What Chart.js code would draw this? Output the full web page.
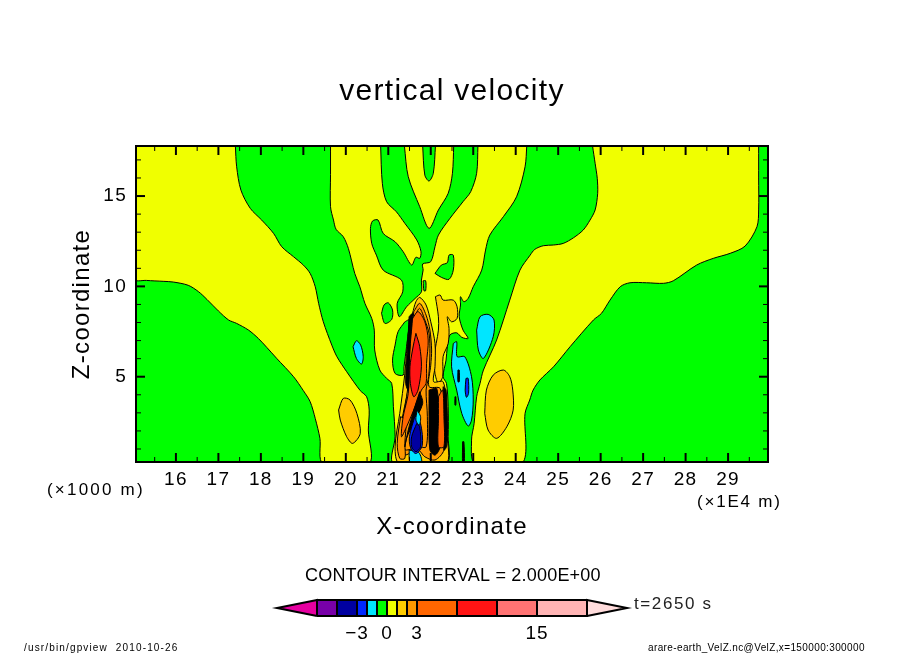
<!DOCTYPE html>
<html>
<head>
<meta charset="utf-8">
<title>vertical velocity</title>
<script src="https://cdn.jsdelivr.net/npm/chart.js@4/dist/chart.umd.min.js"></script>
<style>
  html, body { margin: 0; padding: 0; background: #fff; }
  #plot { position: absolute; left: 0; top: 0; }
  #bar { position: absolute; left: 267px; top: 590px; }
</style>
</head>
<body>
<canvas id="plot" width="904" height="654"></canvas>
<canvas id="bar" width="370" height="60"></canvas>
<script>
// axis values, x in 1E4 m, z in 1000 m
const xRange = [15.06, 29.94];
const zRange = [0.28, 17.77];
const xTicks = [16, 17, 18, 19, 20, 21, 22, 23, 24, 25, 26, 27, 28, 29];
const xMinor = [15.5, 16.5, 17.5, 18.5, 19.5, 20.5, 21.5, 22.5, 23.5, 24.5, 25.5, 26.5, 27.5, 28.5, 29.5];
const zTicks = [5, 10, 15];
const zMinor = [1, 2, 3, 4, 6, 7, 8, 9, 11, 12, 13, 14, 16, 17];

// colour bar levels
const barLevels = [-7, -5, -3, -2, -1, 0, 1, 2, 3, 7, 11, 15, 20];
const barColors = ['#7800a8', '#0000a0', '#0028ff', '#00e6ff', '#00ff00', '#f0ff00', '#ffcc00', '#ff9900', '#ff6600', '#ff1414', '#ff7373', '#ffb4b4'];
const barTicks = [-3, 0, 3, 15];
const barLow = [-11, '#e600a0'];
const barHigh = [24, '#ffdcdc'];

const GREEN = '#00ff00', YELLOW = '#f0ff00', GOLD = '#ffcc00', AMBER = '#ff9900';
const ORANGE = '#ff6600', RED = '#ff1414', CYAN = '#00e6ff', BLUE = '#0028ff', NAVY = '#0000a0', BLACK = '#000000';

// contour outlines [x, z]
const greenBase = [[15, 0.2], [30, 0.2], [30, 17.9], [15, 17.9]];
const yellowLeft = [[15, 17.9], [17.40, 17.9], [17.40, 17.77], [17.43, 16.62], [17.53, 15.33], [17.75, 14.32], [18.02, 13.67], [18.30, 12.93], [18.49, 12.20], [18.77, 11.64], [19.00, 11.18], [19.16, 10.72], [19.28, 9.98], [19.36, 9.06], [19.47, 8.04], [19.67, 6.75], [19.79, 6.11], [20.02, 5.28], [20.34, 4.23], [20.49, 3.89], [20.55, 3.15], [20.53, 2.05], [20.55, 0.2], [19.46, 0.2], [19.39, 1.59], [19.28, 2.69], [19.16, 3.62], [19.00, 4.23], [18.77, 5.00], [18.37, 6.02], [18.14, 6.62], [17.94, 7.12], [17.71, 7.58], [17.43, 7.95], [17.24, 8.14], [17.00, 8.64], [16.73, 9.28], [16.53, 9.71], [16.29, 10.06], [15.94, 10.24], [15.70, 10.28], [15.31, 10.33], [15, 10.42]];
const yellowCentre = [[19.64, 17.9], [19.64, 16.2], [19.64, 14.41], [19.71, 13.67], [19.77, 13.16], [19.94, 12.75], [20.06, 12.10], [20.21, 10.72], [20.33, 9.98], [20.45, 9.06], [20.61, 8.23], [20.67, 7.58], [20.68, 6.48], [20.80, 5.37], [20.96, 4.91], [21.08, 4.63], [21.12, 3.34], [21.16, 1.68], [21.12, 0.2], [22.37, 0.2], [22.41, 1.68], [22.41, 3.34], [22.37, 4.63], [22.29, 5.00], [22.36, 5.92], [22.39, 6.66], [22.45, 7.31], [22.61, 7.43], [22.73, 7.18], [22.88, 7.12], [22.76, 7.58], [22.67, 8.32], [22.70, 8.97], [22.70, 9.43], [22.78, 9.15], [22.88, 9.33], [23.00, 9.98], [23.20, 10.90], [23.29, 12.01], [23.39, 12.84], [23.71, 13.86], [24.02, 14.96], [24.22, 16.62], [24.26, 17.77], [24.26, 17.9]];
const yellowRight = [[25.81, 17.9], [25.81, 17.77], [25.87, 16.81], [25.92, 15.98], [25.93, 15.15], [25.87, 14.23], [25.75, 13.67], [25.59, 13.12], [25.36, 12.69], [25.12, 12.38], [24.89, 12.29], [24.65, 12.25], [24.45, 12.05], [24.34, 11.73], [24.10, 10.90], [23.86, 9.24], [23.55, 7.03], [23.24, 5.37], [23.16, 4.63], [23.08, 3.89], [23.02, 2.40], [22.96, 1.49], [23.04, 0.2], [24.15, 0.2], [24.22, 2.97], [24.33, 3.71], [24.41, 4.26], [24.57, 4.82], [24.89, 5.55], [25.28, 6.66], [25.83, 8.14], [26.02, 8.51], [26.22, 9.24], [26.46, 9.98], [26.69, 10.20], [27.08, 10.20], [27.48, 10.17], [27.71, 10.31], [28.26, 11.18], [28.65, 11.55], [29.05, 11.83], [29.40, 12.23], [29.68, 13.30], [29.72, 14.23], [29.72, 16.0], [29.72, 17.77], [29.72, 17.9]];
const greenArm = [[20.82, 17.9], [20.82, 17.77], [20.86, 15.70], [20.96, 14.69], [21.19, 14.13], [21.39, 13.49], [21.67, 12.57], [21.77, 11.92], [21.74, 11.55], [21.65, 11.61], [21.55, 11.18], [21.35, 11.92], [21.16, 12.47], [20.88, 12.93], [20.76, 13.67], [20.63, 13.62], [20.58, 13.21], [20.61, 12.38], [20.72, 11.73], [20.88, 10.90], [21.31, 10.35], [21.34, 9.70], [21.21, 9.06], [21.26, 8.32], [21.43, 8.87], [21.63, 9.33], [21.78, 9.70], [21.78, 10.35], [21.82, 10.90], [21.81, 11.24], [22.00, 11.37], [22.10, 12.20], [22.18, 12.84], [22.45, 13.76], [22.76, 14.69], [22.94, 15.24], [23.08, 16.26], [23.11, 17.77], [23.11, 17.9]];
const yellowVee = [[21.38, 17.9], [21.38, 17.77], [21.47, 16.07], [21.74, 14.41], [21.96, 13.21], [22.18, 14.23], [22.41, 15.15], [22.51, 16.26], [22.54, 17.77], [22.54, 17.9]];
const greenTip = [[21.81, 17.9], [21.81, 17.77], [21.86, 16.16], [21.96, 15.83], [22.06, 16.26], [22.11, 17.77], [22.11, 17.9]];
const greenSmall = [[22.10, 10.72], [22.25, 11.18], [22.39, 11.31], [22.43, 11.73], [22.53, 11.73], [22.53, 10.90], [22.43, 10.39], [22.25, 10.50]];
const greenTiny = [[21.82, 10.31], [21.88, 10.31], [21.88, 9.76], [21.84, 9.76]];
const greenRound = [[20.84, 8.50], [20.90, 8.97], [21.00, 9.09], [21.10, 8.69], [21.08, 8.17], [20.92, 7.95]];
const greenSliver = [[21.39, 8.04], [21.23, 7.49], [21.16, 6.75], [21.10, 5.92], [21.16, 5.18], [21.35, 5.09], [21.37, 5.55], [21.43, 6.66], [21.49, 8.14]];
const cyanLeft = [[20.17, 6.66], [20.25, 6.99], [20.35, 6.75], [20.41, 6.11], [20.37, 5.70], [20.25, 6.01]];
const goldLeft = [[19.83, 3.16], [19.94, 3.80], [20.10, 3.71], [20.26, 2.97], [20.34, 1.86], [20.16, 1.31], [20.02, 1.68], [19.87, 2.60]];
const goldRight = [[23.27, 2.97], [23.31, 4.26], [23.47, 5.09], [23.71, 5.37], [23.86, 5.00], [23.93, 4.26], [23.94, 3.15], [23.79, 2.23], [23.55, 1.59], [23.35, 2.05]];
const cyanRight = [[23.08, 7.58], [23.16, 8.32], [23.35, 8.45], [23.49, 8.14], [23.47, 7.21], [23.24, 6.01], [23.12, 6.48]];
const cyanBig = [[22.53, 6.84], [22.61, 6.94], [22.62, 6.11], [22.80, 6.11], [22.96, 5.00], [23.00, 3.71], [22.96, 2.60], [22.88, 2.27], [22.73, 2.97], [22.61, 4.26], [22.49, 5.55]];
const blueSpot = [[22.83, 4.91], [22.88, 4.91], [22.89, 4.08], [22.84, 3.86], [22.81, 4.26]];
const darkSpotA = [[22.64, 5.37], [22.67, 5.37], [22.67, 4.72], [22.64, 4.72]];
const darkSpotB = [[22.57, 3.89], [22.59, 3.89], [22.59, 3.43], [22.57, 3.43]];
const darkSpike = [[22.75, 1.40], [22.78, 1.40], [22.79, 0.2], [22.75, 0.2]];
const goldUpper = [[22.11, 9.43], [22.22, 9.52], [22.29, 9.24], [22.53, 9.24], [22.62, 8.87], [22.62, 8.23], [22.49, 8.04], [22.39, 8.32], [22.43, 7.67], [22.41, 6.84], [22.29, 6.11], [22.28, 5.00], [22.18, 4.63], [22.10, 5.18], [22.08, 6.11], [22.18, 7.58], [22.18, 8.32]];
const plumeGold = [[21.57, 8.50], [21.65, 9.15], [21.74, 9.39], [21.89, 8.97], [22.00, 8.04], [22.10, 6.84], [22.10, 5.55], [22.07, 4.72], [22.29, 4.72], [22.37, 3.34], [22.39, 1.68], [22.36, 0.2], [21.26, 0.2], [21.16, 1.12], [21.27, 2.97], [21.39, 5.18], [21.47, 7.40]];
const plumeAmber = [[21.60, 8.60], [21.74, 9.06], [21.89, 8.41], [21.98, 7.58], [22.02, 6.48], [22.00, 5.64], [21.96, 4.45], [22.22, 4.35], [22.33, 2.42], [22.31, 0.94], [22.10, 0.39], [21.86, 0.57], [21.70, 0.94], [21.35, 0.66], [21.26, 1.49], [21.35, 2.97], [21.49, 4.63], [21.52, 6.48]];
const amberInner = [[21.63, 8.41], [21.74, 8.78], [21.86, 8.14], [21.96, 7.40], [21.98, 6.29], [21.95, 5.00], [21.89, 4.26], [21.92, 2.79], [21.89, 1.12], [21.70, 1.12], [21.43, 0.94], [21.34, 1.12], [21.39, 3.15], [21.47, 4.63], [21.51, 6.48]];
const amberFoot = [[21.29, 2.79], [21.21, 1.31], [21.27, 0.48], [21.39, 0.48], [21.39, 1.31], [21.41, 2.60]];
const plumeOrange = [[21.55, 8.14], [21.70, 8.60], [21.86, 8.04], [21.94, 7.03], [21.90, 5.74], [21.89, 4.63], [21.78, 4.26], [21.63, 3.34], [21.43, 2.23], [21.31, 1.68], [21.35, 2.79], [21.47, 4.08], [21.49, 5.55], [21.51, 6.84]];
const plumeRed = [[21.65, 7.40], [21.74, 6.66], [21.78, 5.55], [21.70, 4.26], [21.60, 3.89], [21.52, 4.63], [21.51, 5.55], [21.57, 6.48]];
const denseEdge = [[21.49, 8.32], [21.57, 8.50], [21.52, 6.84], [21.49, 5.55], [21.47, 4.26], [21.41, 4.63], [21.45, 6.48]];
const denseDiagonal = [[21.74, 4.17], [21.81, 3.52], [21.59, 2.42], [21.43, 1.59], [21.39, 1.12], [21.47, 2.05], [21.60, 3.15]];
const denseColumnA = [[21.96, 4.26], [22.14, 4.35], [22.18, 2.79], [22.22, 1.12], [22.10, 0.66], [21.98, 0.94], [21.96, 2.79]];
const denseColumnB = [[22.29, 4.45], [22.36, 4.26], [22.39, 2.42], [22.37, 1.12], [22.31, 0.94], [22.31, 2.79]];
const orangeColumn = [[22.18, 3.89], [22.28, 4.26], [22.31, 2.79], [22.31, 1.12], [22.18, 1.12], [22.18, 2.60]];
const coreRim = [[21.63, 2.85], [21.76, 2.40], [21.80, 1.20], [21.65, 0.75], [21.52, 1.10], [21.50, 1.70]];
const coreBlue = [[21.67, 2.42], [21.74, 2.23], [21.76, 1.12], [21.65, 0.85], [21.55, 1.12], [21.55, 1.68]];
const coreCyan = [[21.68, 3.15], [21.76, 2.79], [21.73, 2.32], [21.65, 2.60]];
const floorCyan = [[21.49, 0.94], [21.72, 0.80], [21.78, 0.2], [21.52, 0.2]];

// paint order, first one at the back
const layers = [
  [greenBase, GREEN], [yellowLeft, YELLOW], [yellowCentre, YELLOW], [yellowRight, YELLOW],
  [greenArm, GREEN], [yellowVee, YELLOW], [greenTip, GREEN], [greenSmall, GREEN], [greenTiny, GREEN],
  [greenRound, GREEN], [greenSliver, GREEN], [cyanLeft, CYAN], [goldLeft, GOLD], [goldRight, GOLD],
  [cyanRight, CYAN], [cyanBig, CYAN], [blueSpot, BLUE], [darkSpotA, BLACK], [darkSpotB, BLACK], [darkSpike, BLACK],
  [goldUpper, GOLD], [plumeGold, GOLD], [plumeAmber, AMBER], [amberInner, AMBER], [amberFoot, AMBER],
  [plumeOrange, ORANGE], [plumeRed, RED],
  [denseEdge, BLACK], [denseDiagonal, BLACK], [denseColumnA, BLACK], [denseColumnB, BLACK],
  [orangeColumn, ORANGE], [floorCyan, CYAN], [coreRim, BLUE], [coreBlue, NAVY], [coreCyan, CYAN]
];

function toDataset(points, color, index, count, width, tension) {
  const ring = points.concat([points[0]]).map(p => ({ x: p[0], y: p[1] }));
  return {
    data: ring,
    showLine: true,
    tension: tension,
    capBezierPoints: false,
    pointRadius: 0,
    borderColor: '#000',
    borderWidth: width,
    backgroundColor: color,
    order: count - index
  };
}

// line datasets can't fill a closed ring, so fill it just before the outline goes down
const ringFill = {
  id: 'ringFill',
  beforeDatasetDraw(chart, args) {
    const ctx = chart.ctx, area = chart.chartArea, pts = args.meta.data;
    ctx.save();
    ctx.beginPath();
    ctx.rect(area.left, area.top, area.right - area.left, area.bottom - area.top);
    ctx.clip();
    ctx.beginPath();
    pts.forEach((p, i) => {
      if (!i) ctx.moveTo(p.x, p.y);
      else if (pts[i - 1].cp2x !== undefined && args.meta.controller.getDataset().tension) ctx.bezierCurveTo(pts[i - 1].cp2x, pts[i - 1].cp2y, p.cp1x, p.cp1y, p.x, p.y);
      else ctx.lineTo(p.x, p.y);
    });
    ctx.closePath();
    ctx.fillStyle = args.meta.controller.getDataset().backgroundColor;
    ctx.fill();
    ctx.restore();
  }
};

function tickMark(ctx, x1, y1, x2, y2, w) {
  ctx.lineWidth = w;
  ctx.beginPath();
  ctx.moveTo(x1, y1);
  ctx.lineTo(x2, y2);
  ctx.stroke();
}

function label(ctx, text, x, y, font, spacing, color) {
  ctx.font = font;
  ctx.letterSpacing = spacing + 'px';
  ctx.fillStyle = color || '#000';
  ctx.textAlign = 'left';
  ctx.textBaseline = 'middle';
  ctx.fillText(text, x, y);
}

const frame = {
  id: 'frame',
  // the title box stops at the right padding, the reference centres it on the page
  afterLayout(chart) { chart.titleBlock.left = 0; chart.titleBlock.right = chart.width; },
  beforeDraw(chart) { chart.ctx.letterSpacing = '1.3px'; },
  afterDraw(chart) {
    const ctx = chart.ctx, a = chart.chartArea, sx = chart.scales.x, sy = chart.scales.y;
    ctx.save();
    ctx.strokeStyle = '#000';
    xTicks.forEach(v => {
      const p = sx.getPixelForValue(v);
      tickMark(ctx, p, a.top, p, a.top + 9, 2);
      tickMark(ctx, p, a.bottom, p, a.bottom - 9, 2);
    });
    xMinor.forEach(v => {
      const p = sx.getPixelForValue(v);
      tickMark(ctx, p, a.top, p, a.top + 5, 1);
      tickMark(ctx, p, a.bottom, p, a.bottom - 5, 1);
    });
    zTicks.forEach(v => {
      const p = sy.getPixelForValue(v);
      tickMark(ctx, a.left, p, a.left + 9, p, 2);
      tickMark(ctx, a.right, p, a.right - 9, p, 2);
    });
    zMinor.forEach(v => {
      const p = sy.getPixelForValue(v);
      tickMark(ctx, a.left, p, a.left + 5, p, 1);
      tickMark(ctx, a.right, p, a.right - 5, p, 1);
    });
    ctx.lineWidth = 2;
    ctx.strokeRect(a.left, a.top, a.right - a.left, a.bottom - a.top);
    label(ctx, '(×1000 m)', 47, 490, '17px "Liberation Sans"', 2.2);
    label(ctx, '(×1E4 m)', 697, 502, '17px "Liberation Sans"', 1.8);
    label(ctx, 'CONTOUR INTERVAL = 2.000E+00', 305, 576, '18px "Liberation Sans"', 0.2);
    label(ctx, 't=2650 s', 634, 604, '17px "Liberation Sans"', 1.6, '#222');
    label(ctx, '/usr/bin/gpview  2010-10-26', 24, 648, '10px "Liberation Sans"', 1.15);
    label(ctx, 'arare-earth_VelZ.nc@VelZ,x=150000:300000', 648, 648, '10px "Liberation Sans"', 0.38);
    ctx.restore();
  }
};

new Chart(document.getElementById('plot'), {
  type: 'scatter',
  data: { datasets: layers.map((l, i) => toDataset(l[0], l[1], i, layers.length, 1, l[0] === greenBase ? 0 : 0.3)) },
  plugins: [ringFill, frame],
  options: {
    responsive: false,
    animation: false,
    devicePixelRatio: 1,
    layout: { padding: { left: 0, top: 0, right: 136, bottom: 110 } },
    plugins: {
      legend: { display: false },
      tooltip: { enabled: false },
      title: {
        display: true,
        text: 'vertical velocity',
        color: '#000',
        font: { family: '"Liberation Sans"', size: 30, weight: 'normal', lineHeight: 1.2 },
        padding: { top: 74, bottom: 36 }
      }
    },
    scales: {
      x: {
        type: 'linear',
        min: xRange[0],
        max: xRange[1],
        afterFit(s) { s.height = 82; },
        afterBuildTicks(s) { s.ticks = xTicks.map(v => ({ value: v })); },
        grid: { display: false, drawTicks: false },
        border: { display: false },
        ticks: { color: '#000', maxRotation: 0, autoSkip: false, padding: 6, font: { family: '"Liberation Sans"', size: 19 } },
        title: { display: true, text: 'X-coordinate', color: '#000', padding: { top: 0, bottom: 2 }, font: { family: '"Liberation Sans"', size: 24, lineHeight: 1.2 } }
      },
      y: {
        type: 'linear',
        min: zRange[0],
        max: zRange[1],
        afterFit(s) { s.width = 136; },
        afterBuildTicks(s) { s.ticks = zTicks.map(v => ({ value: v })); },
        grid: { display: false, drawTicks: false },
        border: { display: false },
        ticks: { color: '#000', autoSkip: false, padding: 9, font: { family: '"Liberation Sans"', size: 19 } },
        title: { display: true, text: 'Z-coordinate', color: '#000', padding: { top: 67.6, bottom: 0 }, font: { family: '"Liberation Sans"', size: 24, lineHeight: 1.2 } }
      }
    }
  }
});

// colour bar: one rectangle per level band plus the two end triangles
const barRings = [
  [[[barLevels[0], 0], [barLevels[0], 1], [barLow[0], 0.5]], barLow[1]],
  [[[barLevels[barLevels.length - 1], 0], [barLevels[barLevels.length - 1], 1], [barHigh[0], 0.5]], barHigh[1]]
];
barColors.forEach((c, i) => {
  const a = barLevels[i], b = barLevels[i + 1];
  barRings.push([[[a, 0], [b, 0], [b, 1], [a, 1]], c]);
});

new Chart(document.getElementById('bar'), {
  type: 'scatter',
  data: { datasets: barRings.map((l, i) => toDataset(l[0], l[1], i, barRings.length, 2, 0)) },
  plugins: [{
    id: 'barFill',
    beforeDraw(chart) { chart.ctx.letterSpacing = '1px'; },
    beforeDatasetDraw(chart, args) {
      const ctx = chart.ctx, pts = args.meta.data;
      ctx.beginPath();
      pts.forEach((p, i) => i ? ctx.lineTo(p.x, p.y) : ctx.moveTo(p.x, p.y));
      ctx.closePath();
      ctx.fillStyle = args.meta.controller.getDataset().backgroundColor;
      ctx.fill();
    }
  }],
  options: {
    responsive: false,
    animation: false,
    devicePixelRatio: 1,
    clip: false,
    layout: { padding: { top: 10, left: 0, right: 0, bottom: 0 } },
    plugins: { legend: { display: false }, tooltip: { enabled: false } },
    scales: {
      x: {
        type: 'linear',
        min: -12,
        max: 25,
        afterFit(s) { s.height = 34; },
        afterBuildTicks(s) { s.ticks = barTicks.map(v => ({ value: v })); },
        grid: { display: false, drawTicks: false },
        border: { display: false },
        ticks: { color: '#000', maxRotation: 0, autoSkip: false, padding: 6, font: { family: '"Liberation Sans"', size: 19 },
          callback: v => String(v).replace('-', '\u2212') }
      },
      y: { type: 'linear', min: 0, max: 1, display: false }
    }
  }
});
</script>
</body>
</html>
